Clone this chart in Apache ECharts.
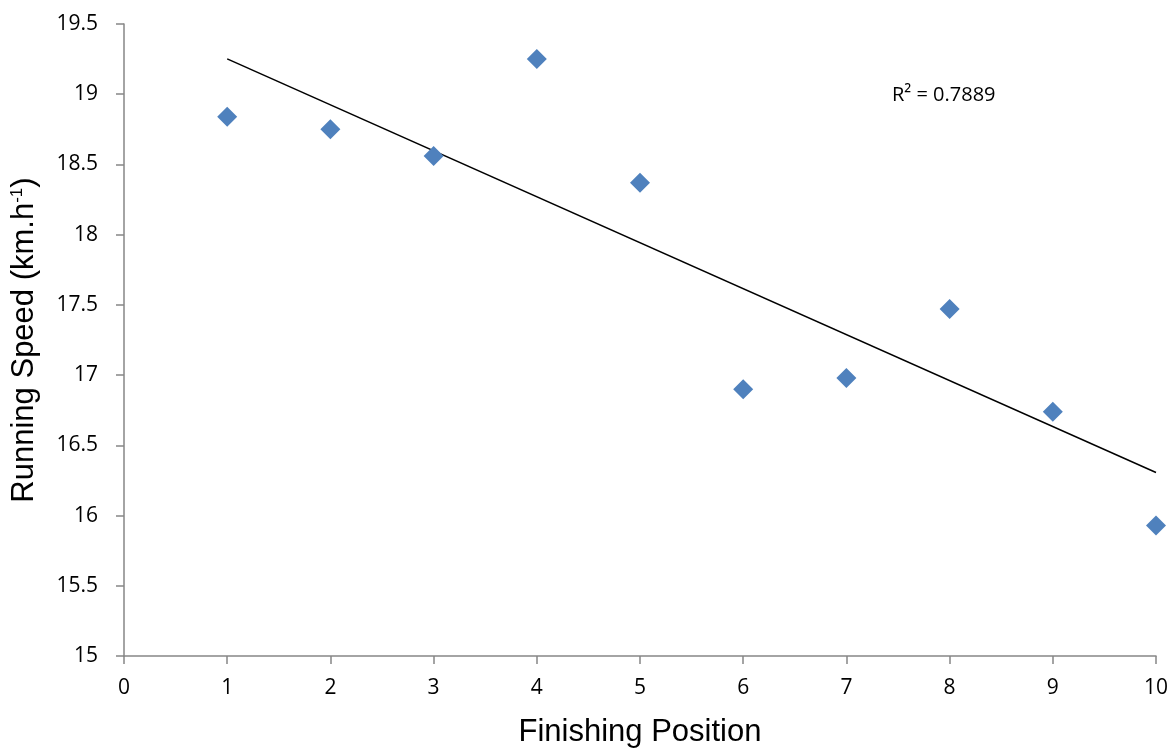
<!DOCTYPE html>
<html>
<head>
<meta charset="utf-8">
<script src="https://cdn.jsdelivr.net/npm/echarts@6/dist/echarts.min.js"></script>
<style>
  html, body { margin: 0; padding: 0; background: #fff; overflow: hidden; }
  #chart { width: 1173px; height: 753px; }
</style>
</head>
<body>
<div id="chart"></div>
<script>
// Finishing position vs running speed
var positions = [1, 2, 3, 4, 5, 6, 7, 8, 9, 10];
var speeds = [18.84, 18.75, 18.56, 19.25, 18.37, 16.90, 16.98, 17.47, 16.74, 15.93];
var rSquaredText = 'R² = 0.7889';
var xTitle = 'Finishing Position';
var yTitle = 'Running Speed (km.h';

// Least-squares linear trendline
function linearFit(xs, ys) {
  var n = xs.length, mx = 0, my = 0;
  for (var i = 0; i < n; i++) { mx += xs[i]; my += ys[i]; }
  mx /= n; my /= n;
  var sxy = 0, sxx = 0;
  for (var j = 0; j < n; j++) {
    sxy += (xs[j] - mx) * (ys[j] - my);
    sxx += (xs[j] - mx) * (xs[j] - mx);
  }
  var b = sxy / sxx;
  return { slope: b, intercept: my - b * mx };
}
var fit = linearFit(positions, speeds);
var xFirst = positions[0], xLast = positions[positions.length - 1];
var trend = [
  [xFirst, fit.intercept + fit.slope * xFirst],
  [xLast, fit.intercept + fit.slope * xLast]
];

var points = positions.map(function (p, i) { return [p, speeds[i]]; });

var tickFont = '"Open Sans", Lato, sans-serif';
var titleFont = '"Liberation Sans", Arial, sans-serif';
var axisGray = '#868686';

var chart = echarts.init(document.getElementById('chart'));
chart.setOption({
  animation: false,
  grid: { left: 124, width: 1032, top: 24, height: 637 },
  xAxis: {
    type: 'value', min: 0, max: 10, interval: 1,
    splitLine: { show: false },
    axisLine: { lineStyle: { color: axisGray, width: 1.5 } },
    axisTick: { show: true, length: 8, lineStyle: { color: axisGray, width: 1.5 } },
    axisLabel: { color: '#000', fontSize: 21, fontFamily: tickFont, margin: 22 },
    name: xTitle, nameLocation: 'middle', nameGap: 61,
    nameTextStyle: { color: '#000', fontSize: 31, fontFamily: titleFont }
  },
  yAxis: {
    type: 'value', min: 15, max: 19.5, interval: 0.5,
    splitLine: { show: false },
    axisLine: { show: true, lineStyle: { color: axisGray, width: 1.5 } },
    axisTick: { show: true, length: 8, lineStyle: { color: axisGray, width: 1.5 } },
    axisLabel: { color: '#000', fontSize: 21, fontFamily: tickFont, margin: 26 },
    name: '{t|' + yTitle + '}{s|-1}{t|)}', nameLocation: 'middle', nameGap: 84,
    nameTextStyle: {
      rich: {
        t: { color: '#000', fontSize: 31, fontFamily: titleFont },
        s: { color: '#000', fontSize: 17, fontFamily: titleFont, verticalAlign: 'top', padding: [0, 0, 14, 0] }
      }
    }
  },
  series: [
    {
      type: 'line', data: trend, symbol: 'none', silent: true,
      lineStyle: { color: '#000', width: 1.5 }, z: 1
    },
    {
      type: 'scatter', data: points, symbol: 'diamond', symbolSize: [20, 20],
      itemStyle: { color: '#4F81BD', opacity: 1 }, z: 2
    }
  ],
  graphic: [{
    type: 'text', left: 892, top: 85,
    style: { text: rSquaredText, fill: '#000', font: '20px ' + tickFont }
  }]
});
</script>
</body>
</html>
